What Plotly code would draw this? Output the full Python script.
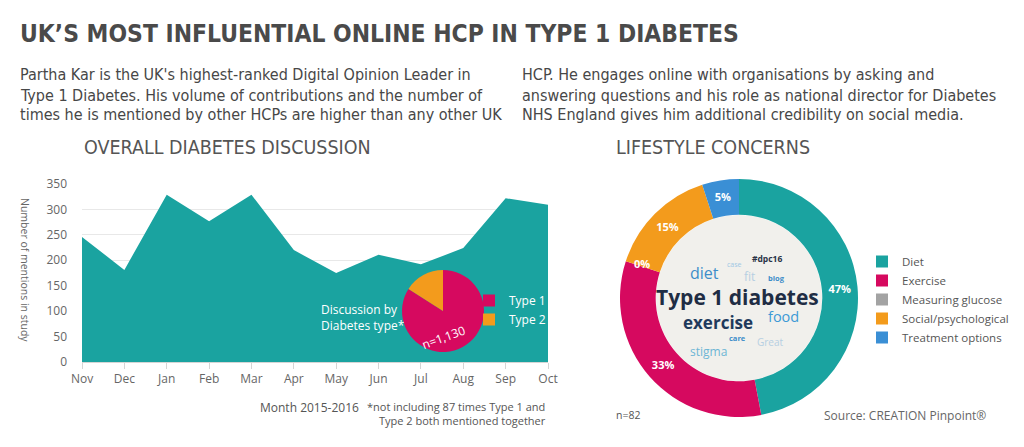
import plotly.graph_objects as go

# page is rendered with an 8px body margin; figure is sized to fit the window exactly
OFF = 8
W, H = 1024 - OFF, 447 - OFF

months = ["Nov", "Dec", "Jan", "Feb", "Mar", "Apr", "May", "Jun", "Jul", "Aug", "Sep", "Oct"]
mentions = [246, 181, 329, 277, 329, 220, 175, 211, 192, 224, 322, 309]

type_labels = ["Type 1", "Type 2"]
type_counts = [950, 180]

concern_labels = ["Diet", "Exercise", "Measuring glucose", "Social/psychological", "Treatment options"]
concern_pct = [47, 33, 0, 15, 5]

TEAL = "#1aa3a0"
MAGENTA = "#d6095f"
ORANGE = "#f39b1c"
GRAY = "#a3a3a3"
BLUE = "#3a8fd5"
concern_colors = [TEAL, MAGENTA, GRAY, ORANGE, BLUE]
type_colors = [MAGENTA, ORANGE]

COND = "DejaVu Sans Condensed, Liberation Sans Narrow, Roboto"
BODY = "Open Sans, Noto Sans, DejaVu Sans"


def px(x):
    return (x - OFF) / W


def py(y):
    return 1 - (y - OFF) / H


fig = go.Figure()

fig.add_trace(go.Scatter(
    x=months, y=mentions, mode="lines", fill="tozeroy",
    line=dict(width=0, color=TEAL), fillcolor=TEAL,
    showlegend=False, hoverinfo="x+y",
))

fig.add_trace(go.Pie(
    labels=type_labels, values=type_counts, sort=False, direction="clockwise", rotation=0,
    marker=dict(colors=type_colors), textinfo="none",
    domain=dict(x=[px(402), px(484)], y=[py(352), py(270)]),
    legend="legend2", showlegend=True,
))

fig.add_trace(go.Pie(
    labels=concern_labels, values=concern_pct, sort=False, direction="clockwise", rotation=0,
    hole=0.70, marker=dict(colors=concern_colors),
    texttemplate="%{value}%", textposition="inside", insidetextorientation="horizontal",
    textfont=dict(color="white", size=11, family=BODY, weight="bold"),
    domain=dict(x=[px(620), px(858)], y=[py(417), py(179)]),
    legend="legend", showlegend=True,
))

annotations = []


def ann(x, y, text, size, color, family=BODY, xanchor="center", weight="normal", angle=0, align="left"):
    annotations.append(dict(
        x=px(x), y=py(y), xref="paper", yref="paper", text=text, showarrow=False,
        xanchor=xanchor, yanchor="middle", textangle=angle, align=align,
        font=dict(size=size, color=color, family=family, weight=weight),
    ))


ann(18, 33, "UK’S MOST INFLUENTIAL ONLINE HCP IN TYPE 1 DIABETES", 24.4, "#4a4a4a", COND, "left", "bold")
left_lines = ["Partha Kar is the UK's highest-ranked Digital Opinion Leader in",
              "Type 1 Diabetes. His volume of contributions and the number of",
              "times he is mentioned by other HCPs are higher than any other UK"]
right_lines = ["HCP. He engages online with organisations by asking and",
               "answering questions and his role as national director for Diabetes",
               "NHS England gives him additional credibility on social media."]
for i, t in enumerate(left_lines):
    ann(18, 75 + 20 * i, t, 16, "#474747", COND, "left")
for i, t in enumerate(right_lines):
    ann(520, 75 + 20 * i, t, 16, "#474747", COND, "left")

ann(82, 147, "OVERALL DIABETES DISCUSSION", 19.5, "#555555", COND, "left")
ann(614, 147, "LIFESTYLE CONCERNS", 19.5, "#555555", COND, "left")

ann(25, 270, "Number of mentions in study", 10.5, "#666666", BODY, angle=90)
ann(309, 407, "Month 2015-2016", 12, "#555555")
annotations.append(dict(
    x=px(548), y=py(413), xref="paper", yref="paper", showarrow=False, xanchor="right", yanchor="middle",
    align="right", text="*not including 87 times Type 1 and<br>Type 2 both mentioned together",
    font=dict(size=11, color="#555555", family=BODY),
))
annotations.append(dict(
    x=px(319), y=py(317), xref="paper", yref="paper", showarrow=False, xanchor="left", yanchor="middle",
    align="left", text="Discussion by<br>Diabetes type*",
    font=dict(size=12, color="white", family=BODY),
))
ann(443, 337, "n=1,130", 12, "white", BODY, angle=-20)

# 0% label for the zero slice
ann(642, 263, f"{concern_pct[2]}%", 11, "white", BODY, weight="bold")

# word cloud
cloud = [
    ("#dpc16", 767, 258, 8.5, "#2a3346", "bold"),
    ("case", 734, 264, 7, "#9fc7e4", "normal"),
    ("diet", 704, 273, 16, "#3d8dc9", "normal"),
    ("fit", 749, 276, 12, "#b6cfe2", "normal"),
    ("blog", 776, 278, 7.5, "#3d8dc9", "bold"),
    ("Type 1 diabetes", 737, 297, 21, "#1f2d44", "bold"),
    ("exercise", 718, 322, 17, "#1f3a5c", "bold"),
    ("food", 783, 316, 14.5, "#3d9ad6", "normal"),
    ("care", 737, 338, 7.5, "#3d8dc9", "bold"),
    ("Great", 770, 342, 10, "#b6cfe2", "normal"),
    ("stigma", 708, 351, 12, "#6db6d5", "normal"),
]
for t, x, y, s, c, w in cloud:
    ann(x, y, t, s, c, BODY, weight=w)

ann(614, 415, "n=82", 10.5, "#555555", BODY, "left")
ann(988, 415, "Source: CREATION Pinpoint®", 12, "#666666", BODY, "right")

fig.update_layout(
    width=W, height=H, margin=dict(l=0, r=0, t=0, b=0, autoexpand=False),
    paper_bgcolor="white", plot_bgcolor="white",
    xaxis=dict(domain=[px(82), px(548)], range=[0, 11], type="category",
               showgrid=False, showline=True, linecolor="#d5d5d5", linewidth=1,
               ticks="outside", ticklen=6, tickcolor="#d5d5d5",
               tickfont=dict(size=12, color="#666666", family=BODY), anchor="y",
               fixedrange=True, automargin=False),
    yaxis=dict(domain=[py(362), py(184)], range=[0, 350], tickvals=[0, 50, 100, 150, 200, 250, 300, 350],
               showgrid=True, gridcolor="#e8e8e8", zeroline=False, showline=False,
               ticks="", ticklabelstandoff=14,
               tickfont=dict(size=12, color="#666666", family=BODY), anchor="x",
               fixedrange=True, automargin=False),
    legend=dict(x=px(862), y=py(247), xanchor="left", yanchor="top",
                font=dict(size=11.5, color="#555555", family=BODY), bgcolor="rgba(0,0,0,0)",
                itemwidth=30, tracegroupgap=0),
    legend2=dict(x=px(469), y=py(286), xanchor="left", yanchor="top",
                 font=dict(size=12, color="white", family=BODY), bgcolor="rgba(0,0,0,0)",
                 itemwidth=30),
    shapes=[dict(type="circle", xref="paper", yref="paper", layer="below",
                 x0=px(656), x1=px(822), y0=py(381), y1=py(215),
                 fillcolor="#f1f0ec", line=dict(width=0))],
    annotations=annotations,
    showlegend=True,
)

fig.write_html("out.html")
